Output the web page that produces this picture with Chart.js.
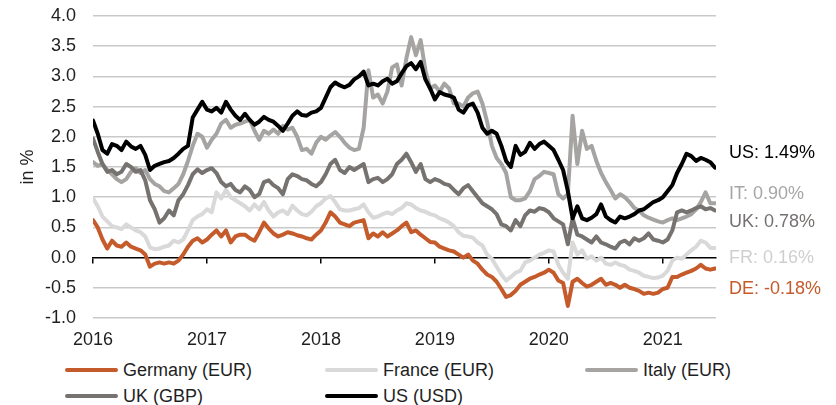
<!DOCTYPE html>
<html>
<head>
<meta charset="utf-8">
<script src="https://cdn.jsdelivr.net/npm/chart.js@4.4.0/dist/chart.umd.min.js"></script>
<style>
  body { margin: 0; background: #fff; font-family: "Liberation Sans", Arial, sans-serif; }
  #wrap { position: relative; width: 836px; height: 405px; overflow: hidden; }
  #chartBox { position: absolute; left: 0; top: 0; width: 836px; height: 355px; }
  .end-label { position: absolute; left: 729px; font-size: 18px; line-height: 20px; white-space: nowrap; }
  .legend-item { position: absolute; height: 22px; display: flex; align-items: center; font-size: 18px; color: #1f1f1f; white-space: nowrap; }
  .legend-item .swatch { width: 53px; height: 4px; margin-right: 5px; border-radius: 2px; }
</style>
</head>
<body>
<div id="wrap">
  <div id="chartBox"><canvas id="yieldChart"></canvas></div>
</div>
<script>
// 10y yields, one value per half month, Jan 2016 .. mid Jun 2021
const germany = [
  0.62, 0.50, 0.30, 0.15, 0.28, 0.20, 0.18, 0.25,
  0.18, 0.15, 0.12, 0.05, -0.15, -0.10, -0.08, -0.10,
  -0.08, -0.10, -0.05, 0.05, 0.18, 0.28, 0.32, 0.25,
  0.30, 0.38, 0.45, 0.35, 0.45, 0.25, 0.35, 0.38,
  0.38, 0.32, 0.28, 0.42, 0.58, 0.48, 0.40, 0.35,
  0.38, 0.42, 0.40, 0.37, 0.35, 0.32, 0.30, 0.38,
  0.45, 0.58, 0.75, 0.68, 0.58, 0.55, 0.52, 0.58,
  0.60, 0.62, 0.32, 0.40, 0.35, 0.42, 0.35, 0.40,
  0.45, 0.52, 0.58, 0.42, 0.45, 0.38, 0.32, 0.26,
  0.25, 0.18, 0.15, 0.12, 0.10, 0.05, 0.00, 0.05,
  -0.05, -0.10, -0.20, -0.28, -0.32, -0.40, -0.52, -0.65,
  -0.62, -0.55, -0.45, -0.40, -0.35, -0.32, -0.28, -0.25,
  -0.20, -0.25, -0.38, -0.42, -0.80, -0.40, -0.35, -0.42,
  -0.48, -0.45, -0.40, -0.35, -0.45, -0.42, -0.45, -0.50,
  -0.45, -0.50, -0.52, -0.55, -0.60, -0.58, -0.60, -0.58,
  -0.52, -0.50, -0.32, -0.32, -0.28, -0.25, -0.22, -0.18,
  -0.12, -0.18, -0.20, -0.18
];
const france = [
  0.98, 0.85, 0.68, 0.60, 0.52, 0.50, 0.47, 0.55,
  0.50, 0.45, 0.42, 0.35, 0.17, 0.14, 0.15, 0.18,
  0.20, 0.28, 0.25, 0.30, 0.45, 0.62, 0.68, 0.72,
  0.80, 0.75, 1.08, 0.98, 1.12, 1.00, 0.95, 0.90,
  0.85, 0.78, 0.88, 0.80, 0.92, 0.78, 0.68, 0.75,
  0.78, 0.72, 0.86, 0.78, 0.72, 0.70, 0.76, 0.85,
  0.90, 0.98, 1.02, 0.92, 0.80, 0.78, 0.78, 0.80,
  0.82, 0.88, 0.75, 0.66, 0.68, 0.72, 0.75, 0.72,
  0.78, 0.82, 0.90, 0.88, 0.82, 0.78, 0.76, 0.72,
  0.70, 0.65, 0.62, 0.58, 0.52, 0.42, 0.36, 0.35,
  0.33, 0.25, 0.20, 0.05, -0.02, -0.15, -0.28, -0.38,
  -0.32, -0.25, -0.22, -0.08, -0.05, 0.00, 0.05, 0.08,
  0.12, 0.10, -0.12, -0.25, -0.35, 0.25, 0.05, 0.12,
  -0.02, 0.02, -0.05, 0.00, -0.10, -0.12, -0.08, -0.12,
  -0.14, -0.20, -0.22, -0.25, -0.30, -0.32, -0.34, -0.33,
  -0.30, -0.22, -0.05, 0.00, -0.02, 0.05, 0.12, 0.18,
  0.28, 0.25, 0.16, 0.16
];
const italy = [
  1.58, 1.52, 1.55, 1.45, 1.38, 1.30, 1.25, 1.30,
  1.42, 1.48, 1.40, 1.45, 1.30, 1.22, 1.18, 1.10,
  1.08, 1.15, 1.22, 1.38, 1.60, 1.85, 2.05, 2.00,
  1.82, 1.95, 2.05, 2.22, 2.28, 2.15, 2.20, 2.22,
  2.25, 2.28, 2.10, 1.95, 2.10, 2.05, 2.12, 2.05,
  2.18, 2.12, 2.15, 2.00, 1.78, 1.80, 1.72, 1.90,
  2.00, 1.95, 2.02, 2.08, 2.00, 1.90, 1.82, 1.78,
  1.80, 2.15, 3.10, 2.65, 2.70, 2.55, 2.75, 3.15,
  3.20, 2.85, 3.30, 3.65, 3.35, 3.60, 3.10, 2.80,
  2.85, 2.75, 2.88, 2.80, 2.55, 2.55, 2.50, 2.65,
  2.72, 2.75, 2.55, 2.25, 1.85, 1.65, 1.55, 1.40,
  1.00, 0.95, 0.95, 0.98, 1.10, 1.30, 1.35, 1.42,
  1.40, 1.38, 1.05, 0.98, 1.05, 2.35, 1.55, 2.10,
  1.80, 1.85, 1.60, 1.40, 1.25, 1.12, 0.98, 1.05,
  1.00, 0.92, 0.82, 0.78, 0.70, 0.66, 0.63, 0.60,
  0.58, 0.62, 0.65, 0.62, 0.65, 0.68, 0.72, 0.80,
  0.92, 1.08, 0.90, 0.90
];
const uk = [
  1.97, 1.75, 1.55, 1.42, 1.45, 1.38, 1.42, 1.55,
  1.50, 1.42, 1.45, 1.28, 0.95, 0.80, 0.58, 0.65,
  0.78, 0.70, 0.95, 1.05, 1.20, 1.38, 1.46, 1.40,
  1.45, 1.48, 1.40, 1.25, 1.18, 1.22, 1.12, 1.08,
  1.18, 1.12, 1.00, 1.05, 1.25, 1.28, 1.20, 1.15,
  1.05, 1.30, 1.38, 1.35, 1.30, 1.28, 1.22, 1.18,
  1.25, 1.38, 1.55, 1.62, 1.45, 1.40, 1.50, 1.45,
  1.50, 1.55, 1.25, 1.30, 1.32, 1.25, 1.30, 1.38,
  1.55, 1.62, 1.72, 1.58, 1.42, 1.55, 1.30, 1.25,
  1.30, 1.27, 1.22, 1.20, 1.12, 1.05, 1.15, 1.20,
  1.10, 1.00, 0.90, 0.85, 0.80, 0.72, 0.55, 0.52,
  0.45, 0.62, 0.52, 0.70, 0.78, 0.76, 0.82, 0.80,
  0.75, 0.65, 0.60, 0.55, 0.22, 0.65, 0.38, 0.35,
  0.30, 0.25, 0.35, 0.25, 0.22, 0.18, 0.15, 0.25,
  0.28, 0.22, 0.32, 0.28, 0.32, 0.40, 0.30, 0.28,
  0.25, 0.30, 0.45, 0.75, 0.78, 0.75, 0.78, 0.82,
  0.85, 0.80, 0.82, 0.78
];
const us = [
  2.27, 2.05, 1.78, 1.72, 1.88, 1.85, 1.78, 1.92,
  1.84, 1.80, 1.85, 1.70, 1.45, 1.52, 1.55, 1.58,
  1.60, 1.65, 1.72, 1.80, 1.85, 2.32, 2.45, 2.58,
  2.45, 2.42, 2.48, 2.40, 2.58, 2.45, 2.35, 2.28,
  2.38, 2.28, 2.20, 2.25, 2.33, 2.28, 2.25, 2.18,
  2.10, 2.22, 2.35, 2.42, 2.36, 2.35, 2.40, 2.42,
  2.48, 2.65, 2.82, 2.90, 2.85, 2.82, 2.86, 2.95,
  3.00, 3.08, 2.85, 2.88, 2.85, 2.92, 2.96, 2.88,
  2.92, 3.05, 3.17, 3.22, 3.12, 3.24, 2.95, 2.80,
  2.62, 2.74, 2.70, 2.68, 2.65, 2.45, 2.40, 2.52,
  2.55, 2.40, 2.15, 2.05, 2.10, 2.05, 1.85, 1.60,
  1.50, 1.85, 1.70, 1.75, 1.90, 1.80, 1.88, 1.92,
  1.85, 1.78, 1.62, 1.45, 1.10, 0.65, 0.85, 0.65,
  0.62, 0.66, 0.72, 0.88, 0.68, 0.62, 0.58, 0.68,
  0.65, 0.68, 0.72, 0.78, 0.80, 0.86, 0.92, 0.95,
  1.00, 1.10, 1.20, 1.40, 1.55, 1.72, 1.68, 1.60,
  1.65, 1.62, 1.58, 1.49
];

// x axis: months since Jan 2016
const yearTicks = [0, 12, 24, 36, 48, 60];
const yearLabels = ['2016', '2017', '2018', '2019', '2020', '2021'];
const xMax = 65.6;
const yTicks = [-1, -0.5, 0, 0.5, 1, 1.5, 2, 2.5, 3, 3.5, 4];

const series = [
  { name: 'Germany (EUR)', code: 'DE', values: germany, color: '#c55a2b', text: '#c55a2b', labelY: 288 },
  { name: 'France (EUR)', code: 'FR', values: france, color: '#d9d9d9', text: '#cfcfcf', labelY: 257 },
  { name: 'Italy (EUR)', code: 'IT', values: italy, color: '#a6a4a2', text: '#a6a6a6', labelY: 193 },
  { name: 'UK (GBP)', code: 'UK', values: uk, color: '#767270', text: '#767171', labelY: 221 },
  { name: 'US (USD)', code: 'US', values: us, color: '#000000', text: '#000000', labelY: 152 }
];

const FONT = '"Liberation Sans", Arial, sans-serif';
const TEXT = '#1f1f1f';
Chart.defaults.font.family = FONT;
Chart.defaults.font.size = 18;
Chart.defaults.color = TEXT;

const setYearTicks = scale => { scale.ticks = yearTicks.map(v => ({ value: v })); };

new Chart(document.getElementById('yieldChart'), {
  type: 'line',
  data: {
    datasets: series.map((s, i) => ({
      label: s.name,
      data: s.values.map((v, k) => ({ x: k / 2, y: v })),
      borderColor: s.color,
      backgroundColor: s.color,
      borderWidth: 4,
      borderJoinStyle: 'round',
      borderCapStyle: 'round',
      pointRadius: 0,
      tension: 0,
      order: series.length - i
    }))
  },
  options: {
    responsive: true,
    maintainAspectRatio: false,
    animation: false,
    events: [],
    layout: { padding: { left: 0, right: 120, top: 16, bottom: 0 } },
    plugins: { legend: { display: false }, tooltip: { enabled: false } },
    scales: {
      x: {
        type: 'linear',
        position: { y: 0 },
        min: 0,
        max: xMax,
        afterBuildTicks: setYearTicks,
        ticks: { display: false },
        grid: { drawOnChartArea: false, drawTicks: true, tickLength: 5, color: '#000', lineWidth: 1.5 },
        border: { display: true, color: '#000', width: 1.5 }
      },
      xb: {
        type: 'linear',
        position: 'bottom',
        min: 0,
        max: xMax,
        afterBuildTicks: setYearTicks,
        ticks: {
          padding: 11,
          autoSkip: false,
          maxRotation: 0,
          color: TEXT,
          callback: (v, i) => yearLabels[i]
        },
        grid: { display: false, drawTicks: false },
        border: { display: false },
        afterFit: scale => { scale.height = 37; }
      },
      y: {
        min: -1,
        max: 4,
        afterBuildTicks: scale => { scale.ticks = yTicks.map(v => ({ value: v })); },
        ticks: { padding: 0, color: TEXT, callback: v => v.toFixed(1) },
        grid: {
          drawTicks: true,
          tickLength: 17,
          tickColor: 'rgba(0,0,0,0)',
          lineWidth: 1.5,
          color: ctx => ctx.tick && ctx.tick.value === 0 ? 'rgba(0,0,0,0)' : '#c9c9c9'
        },
        border: { display: false },
        title: { display: true, text: 'in %', color: TEXT, padding: { top: 17, bottom: 0 } },
        afterFit: scale => { scale.width = 93; }
      }
    }
  }
});

// end-of-line labels and legend as plain text
const wrap = document.getElementById('wrap');
series.forEach(s => {
  const last = s.values[s.values.length - 1];
  const el = document.createElement('div');
  el.className = 'end-label';
  el.style.top = (s.labelY - 10) + 'px';
  el.style.color = s.text;
  el.textContent = s.code + ': ' + last.toFixed(2) + '%';
  wrap.appendChild(el);
});

const legendCols = [65, 325, 585];
const legendRows = [370, 396];
series.forEach((s, i) => {
  const item = document.createElement('div');
  item.className = 'legend-item';
  item.style.left = legendCols[i % 3] + 'px';
  item.style.top = (legendRows[Math.floor(i / 3)] - 11) + 'px';
  const sw = document.createElement('span');
  sw.className = 'swatch';
  sw.style.background = s.color;
  item.appendChild(sw);
  item.appendChild(document.createTextNode(s.name));
  wrap.appendChild(item);
});
</script>
</body>
</html>
